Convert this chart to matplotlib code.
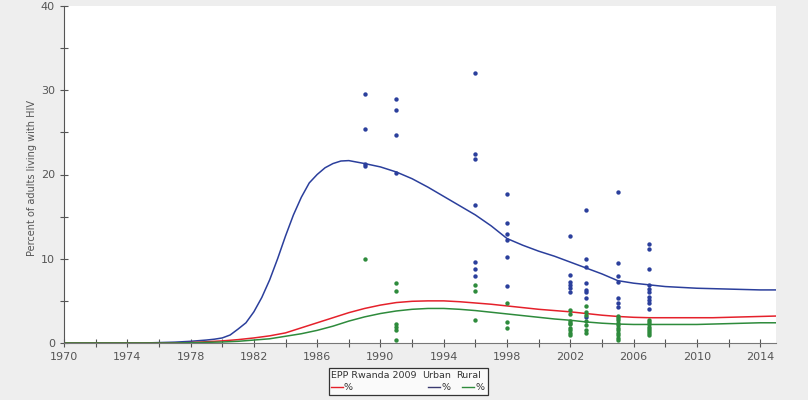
import matplotlib
matplotlib.use('Agg')
import matplotlib.pyplot as plt
from matplotlib.lines import Line2D
from matplotlib.patches import Rectangle

# model curves (one value per year)
years = list(range(1970, 2016))
national = [0, 0, 0, 0, 0, 0, 0, 0, 0.05, 0.15, 0.25, 0.4, 0.6, 0.85, 1.2, 1.8,
            2.4, 3.0, 3.6, 4.1, 4.5, 4.8, 4.95, 5.0, 5.0, 4.9, 4.75, 4.6, 4.4, 4.2,
            4.0, 3.85, 3.7, 3.5, 3.3, 3.15, 3.05, 3.0, 3.0, 3.0, 3.0, 3.0, 3.05,
            3.1, 3.15, 3.2]
rural = [0, 0, 0, 0, 0, 0, 0, 0, 0.03, 0.08, 0.12, 0.2, 0.35, 0.5, 0.8, 1.1,
         1.5, 2.0, 2.6, 3.1, 3.5, 3.8, 4.0, 4.1, 4.1, 4.0, 3.85, 3.65, 3.45, 3.25,
         3.05, 2.85, 2.7, 2.5, 2.35, 2.25, 2.2, 2.2, 2.2, 2.2, 2.2, 2.25, 2.3,
         2.35, 2.4, 2.4]

# urban curve rises steeply, so it is read every half year around the rise
urban_years = (list(range(1970, 1979))
               + [1979 + 0.5 * i for i in range(19)]
               + list(range(1989, 2016)))
urban = ([0, 0, 0, 0, 0, 0, 0.05, 0.1, 0.2]
         + [0.35, 0.45, 0.6, 0.95, 1.65, 2.4, 3.7, 5.4, 7.5, 10.0, 12.7, 15.2,
            17.3, 19.0, 20.0, 20.8, 21.3, 21.6, 21.65]
         + [21.3, 20.9, 20.3, 19.5, 18.5, 17.4, 16.3, 15.2, 13.9, 12.4, 11.6,
            10.9, 10.3, 9.6, 8.9, 8.2, 7.4, 7.1, 6.9, 6.7, 6.6, 6.5, 6.45, 6.4,
            6.35, 6.3, 6.3])

# ANC site observations
urban_obs = {
    1989: [29.5, 25.4, 21.3, 21.0],
    1991: [29.0, 27.7, 24.7, 20.2],
    1996: [32.0, 22.4, 21.8, 16.4, 9.6, 8.8, 8.0],
    1998: [17.7, 14.2, 12.9, 12.2, 10.2, 6.8],
    2002: [12.7, 8.1, 7.2, 6.9, 6.5, 6.0],
    2003: [15.8, 10.0, 9.0, 7.1, 6.3, 6.0, 5.3, 3.1],
    2005: [17.9, 9.5, 8.0, 7.2, 5.3, 4.7, 4.3],
    2007: [11.8, 11.2, 8.8, 6.9, 6.4, 6.0, 5.5, 5.1, 4.7, 4.0],
}
rural_obs = {
    1989: [10.0],
    1991: [7.1, 6.2, 2.3, 1.9, 1.5, 0.4],
    1996: [6.9, 6.2, 2.7],
    1998: [4.7, 2.5, 1.8],
    2002: [3.9, 3.5, 2.6, 2.4, 2.2, 1.8, 1.5, 1.2, 0.9],
    2003: [4.4, 3.7, 3.3, 2.6, 2.1, 1.5, 1.2],
    2005: [3.2, 3.0, 2.7, 2.4, 2.1, 1.8, 1.5, 1.2, 0.9, 0.6, 0.3],
    2007: [2.7, 2.5, 2.2, 1.9, 1.7, 1.4, 1.2, 0.9],
}

blue = '#2b3f9c'
green = '#2e8b3c'
red = '#e5212b'
grey_txt = '#555555'

fig = plt.figure(figsize=(8.08, 4.0), dpi=100, facecolor='#eeeeee')
ax = fig.add_axes([64 / 808, 57 / 400, 712 / 808, 337 / 400])
ax.set_facecolor('white')

# observations
for yr, vals in urban_obs.items():
    ax.scatter([yr] * len(vals), vals, s=10, color=blue, zorder=3, linewidths=0)
for yr, vals in rural_obs.items():
    ax.scatter([yr] * len(vals), vals, s=10, color=green, zorder=3, linewidths=0)

# fitted curves
ax.plot(urban_years, urban, color=blue, lw=1.1, zorder=2)
ax.plot(years, national, color=red, lw=1.1, zorder=2)
ax.plot(years, rural, color=green, lw=1.1, zorder=2)

ax.set_xlim(1970, 2015)
ax.set_ylim(0, 40)
ax.set_xticks(range(1970, 2015, 4))
ax.set_xticks(range(1970, 2016, 2), minor=True)
ax.set_yticks(range(0, 41, 10))
ax.set_yticks(range(5, 40, 10), minor=True)
ax.tick_params(which='both', direction='inout', length=6, width=0.8,
               colors='#555555', labelsize=8, labelcolor=grey_txt)

for s in ['top', 'right']:
    ax.spines[s].set_visible(False)
ax.spines['left'].set_color('#555555')
ax.spines['bottom'].set_color('#777777')

ax.set_ylabel('Percent of adults living with HIV', fontsize=7, color=grey_txt)
ax.yaxis.set_label_coords(-0.038, 0.49)

# legend box below the chart
def fx(px):
    return px / 808

def fy(px):
    return 1 - px / 400

fig.patches.append(Rectangle((fx(329), fy(395)), fx(159), 27 / 400,
                             transform=fig.transFigure, facecolor='#fafafa',
                             edgecolor='#333333', lw=0.9))
fig.text(fx(331), fy(376), 'EPP Rwanda 2009', fontsize=6.8, color='#333333', va='center')
fig.text(fx(422), fy(376), 'Urban', fontsize=6.8, color='#333333', va='center')
fig.text(fx(456), fy(376), 'Rural', fontsize=6.8, color='#333333', va='center')
for x0, col in [(331, red), (428, '#3a3a70'), (462, green)]:
    fig.add_artist(Line2D([fx(x0), fx(x0 + 12)], [fy(387), fy(387)],
                          transform=fig.transFigure, color=col, lw=1))
    fig.text(fx(x0 + 13), fy(387), '%', fontsize=6.8, color='#333333', va='center')

fig.savefig('out.png', dpi=100, facecolor=fig.get_facecolor())
